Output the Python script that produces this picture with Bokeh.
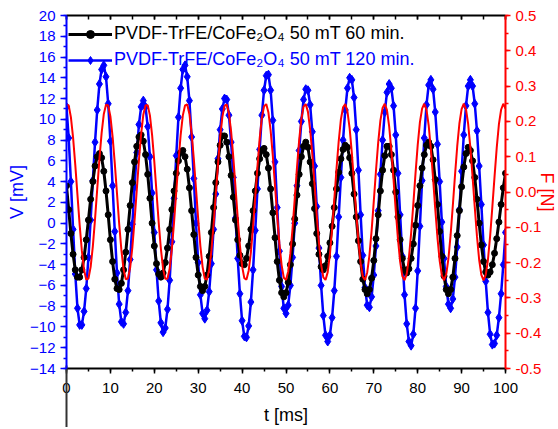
from bokeh.plotting import figure
from bokeh.models import (Range1d, LinearAxis, SingleIntervalTicker, FixedTicker, Legend, LegendItem,
                          PrintfTickFormatter, ColumnDataSource, CustomJSTickFormatter)
from bokeh.embed import file_html
from bokeh.resources import INLINE
import numpy as np

# sampling grid of the recording (ms)
t_ms = np.arange(0, 100.25, 0.5)

# PVDF-TrFE/CoFe2O4 50 mT 60 min. -> V [mV]
v_60min = [
    3.6, 1.3, -1.0, -3.0, -4.5, -5.2, -5.2, -4.5, -3.3, -1.6,
    0.3, 2.3, 4.0, 5.5, 6.4, 6.7, 6.3, 5.0, 3.1, 0.8,
    -1.6, -3.7, -5.4, -6.3, -6.4, -5.8, -4.5, -2.8, -0.6, 1.7,
    3.9, 5.9, 7.4, 8.3, 8.5, 7.9, 6.6, 4.7, 2.4, 0.0,
    -2.2, -3.9, -4.9, -5.2, -4.8, -3.8, -2.4, -0.6, 1.3, 3.1,
    4.8, 6.0, 6.8, 7.0, 6.4, 5.2, 3.4, 1.2, -1.1, -3.3,
    -5.0, -6.1, -6.5, -6.1, -5.0, -3.2, -0.9, 1.5, 3.9, 5.9,
    7.5, 8.4, 8.4, 7.8, 6.4, 4.6, 2.5, 0.3, -1.6, -3.1,
    -3.9, -4.0, -3.4, -2.2, -0.6, 1.2, 3.1, 4.8, 6.2, 7.0,
    7.2, 6.6, 5.3, 3.3, 1.0, -1.4, -3.7, -5.5, -6.7, -7.1,
    -6.7, -5.7, -4.0, -2.0, 0.4, 2.7, 4.7, 6.4, 7.4, 7.8,
    7.3, 5.9, 3.8, 1.4, -1.0, -3.0, -4.2, -4.5, -4.1, -3.2,
    -1.9, -0.3, 1.5, 3.3, 4.9, 6.2, 7.1, 7.5, 7.3, 6.3,
    4.8, 2.8, 0.6, -1.7, -3.7, -5.4, -6.4, -6.8, -6.4, -5.3,
    -3.6, -1.5, 0.8, 3.1, 5.1, 6.5, 7.4, 7.4, 6.6, 5.1,
    3.0, 0.6, -1.6, -3.4, -4.5, -4.8, -4.4, -3.4, -2.0, -0.2,
    1.7, 3.6, 5.3, 6.6, 7.5, 7.8, 7.4, 6.1, 4.2, 1.8,
    -0.8, -3.2, -5.1, -6.4, -6.8, -6.4, -5.2, -3.4, -1.2, 1.2,
    3.5, 5.4, 6.7, 7.3, 7.0, 6.0, 4.4, 2.3, 0.0, -2.1,
    -3.7, -4.7, -5.0, -4.7, -4.0, -2.9, -1.5, 0.1, 1.8, 3.4,
    4.8,
]

# PVDF-TrFE/CoFe2O4 50 mT 120 min. -> V [mV]
v_120min = [
    11.2, 8.2, 4.0, -0.6, -4.9, -8.2, -9.8, -9.8, -8.5, -6.3,
    -3.3, 0.3, 4.1, 7.8, 10.9, 13.4, 14.8, 15.2, 14.1, 11.5,
    7.9, 3.6, -0.8, -4.8, -7.8, -9.5, -9.7, -8.6, -6.5, -3.5,
    -0.1, 3.5, 6.8, 9.5, 11.2, 11.8, 11.2, 9.3, 6.4, 2.9,
    -0.9, -4.5, -7.5, -9.6, -10.5, -10.1, -8.3, -5.5, -1.8, 2.4,
    6.5, 10.2, 13.0, 14.8, 15.2, 14.1, 11.8, 8.3, 4.3, 0.0,
    -3.8, -6.9, -8.7, -9.2, -8.4, -6.6, -3.9, -0.6, 2.8, 6.2,
    9.0, 11.0, 12.0, 11.9, 10.4, 7.8, 4.4, 0.5, -3.4, -6.8,
    -9.4, -10.9, -11.0, -9.9, -7.6, -4.5, -0.7, 3.3, 7.1, 10.4,
    12.8, 14.2, 14.3, 12.8, 9.9, 5.9, 1.5, -2.7, -6.1, -8.2,
    -8.7, -7.9, -6.0, -3.3, 0.0, 3.6, 7.0, 9.8, 11.9, 12.9,
    12.8, 11.4, 8.8, 5.5, 1.6, -2.4, -6.0, -8.9, -10.8, -11.4,
    -10.8, -9.1, -6.5, -3.2, 0.6, 4.4, 8.0, 10.9, 13.0, 14.0,
    13.8, 12.1, 9.0, 5.1, 0.8, -3.1, -6.2, -7.9, -8.1, -7.1,
    -5.0, -2.2, 1.2, 4.7, 8.0, 10.7, 12.6, 13.4, 13.0, 11.3,
    8.5, 4.8, 0.8, -3.2, -6.9, -9.7, -11.4, -11.8, -10.7, -8.2,
    -4.6, -0.3, 4.1, 8.2, 11.4, 13.3, 13.8, 12.9, 10.7, 7.6,
    4.0, 0.1, -3.4, -6.1, -7.8, -8.2, -7.3, -5.2, -2.3, 1.3,
    5.0, 8.5, 11.3, 13.2, 13.8, 13.2, 11.5, 8.9, 5.5, 1.8,
    -2.1, -5.6, -8.6, -10.7, -11.7, -11.6, -10.8, -9.1, -6.8, -4.0,
    -0.9,
]

# applied force F [N]
force_N = [
    .248, .245, .212, .154, .077, -.009, -.094, -.167, -.221, -.248, -.245, -.212, -.154, -.077, .009, .094, .167, .221,
    .247, .245, .214, .157, .081, -.004, -.090, -.164, -.219, -.247, -.245, -.214, -.157, -.081, .004, .090, .164, .219,
    .246, .246, .217, .161, .086, .000, -.086, -.161, -.217, -.246, -.246, -.217, -.161, -.086, .000, .086, .161, .217,
    .245, .248, .221, .167, .094, .009, -.077, -.154, -.212, -.245, -.248, -.221, -.167, -.094, -.009, .077, .154, .212,
    .244, .248, .223, .171, .098, .013, -.073, -.151, -.210, -.244, -.248, -.223, -.171, -.098, -.013, .073, .151, .210,
    .243, .249, .225, .174, .102, .017, -.069, -.147, -.207, -.243, -.249, -.225, -.174, -.102, -.017, .069, .147, .207,
    .242, .249, .227, .177, .106, .022, -.065, -.143, -.205, -.242, -.249, -.227, -.177, -.106, -.022, .065, .143, .205,
    .240, .249, .228, .180, .110, .026, -.061, -.140, -.202, -.240, -.249, -.228, -.180, -.110, -.026, .061, .140, .202,
    .238, .250, .232, .186, .117, .035, -.052, -.133, -.197, -.238, -.250, -.232, -.186, -.117, -.035, .052, .133, .197,
    .236, .250, .233, .189, .121, .039, -.048, -.129, -.194, -.236, -.250, -.233, -.189, -.121, -.039, .048, .129, .194,
    .235, .250, .235, .192, .125, .043, -.043, -.125, -.192, -.235, -.250, -.235, -.192, -.125, -.043, .043, .125, .192,
    .233, .250, .236,
]

label_60 = "PVDF-TrFE/CoFe\u2082O\u2084 50 mT 60 min."
label_120 = "PVDF-TrFE/CoFe\u2082O\u2084 50 mT 120 min."
x_title = "t [ms]"
y_title = "V [mV]"
y2_title = "F [N]"

FONT = "Liberation Sans"
BLUE = "#0000FF"
RED = "#FF0000"

src = ColumnDataSource(dict(t=t_ms, v60=v_60min, v120=v_120min, f=force_N))

p = figure(frame_width=439, frame_height=353, output_backend="svg", toolbar_location=None,
           x_range=Range1d(0, 100), y_range=Range1d(-14, 20),
           min_border_left=66, min_border_right=0, min_border_top=15, min_border_bottom=0)
p.extra_y_ranges = {"F": Range1d(-0.5, 0.5)}
p.outline_line_color = None
p.xgrid.grid_line_color = None
p.ygrid.grid_line_color = None
p.background_fill_color = "white"
p.border_fill_color = "white"

# bottom axis
xa = p.xaxis[0]
xa.ticker = SingleIntervalTicker(interval=10, num_minor_ticks=2)
xa.axis_label = x_title
xa.axis_line_color = "black"
xa.axis_line_width = 2
xa.major_tick_line_color = "black"
xa.minor_tick_line_color = "black"
xa.major_tick_line_width = 1.5
xa.minor_tick_line_width = 1.5
xa.major_tick_out = 5
xa.major_tick_in = 0
xa.minor_tick_out = 3
xa.minor_tick_in = 0
xa.major_label_standoff = 9
xa.axis_label_standoff = 9
xa.major_label_text_font = FONT
xa.major_label_text_font_size = "15px"
xa.major_label_text_color = "black"
xa.axis_label_text_font = FONT
xa.axis_label_text_font_size = "18px"
xa.axis_label_text_font_style = "normal"
xa.axis_label_text_color = "black"

# left axis
ya = p.yaxis[0]
ya.ticker = SingleIntervalTicker(interval=2, num_minor_ticks=2)
ya.axis_label = y_title
for attr in ("axis_line_color", "major_tick_line_color", "minor_tick_line_color",
             "major_label_text_color", "axis_label_text_color"):
    setattr(ya, attr, BLUE)
ya.axis_line_width = 2
ya.major_tick_line_width = 1.5
ya.minor_tick_line_width = 1.5
ya.major_tick_out = 6
ya.major_tick_in = 0
ya.minor_tick_out = 3
ya.minor_tick_in = 0
ya.major_label_standoff = 5
ya.axis_label_standoff = 0
ya.major_label_text_font = FONT
ya.major_label_text_font_size = "15px"
ya.axis_label_text_font = FONT
ya.axis_label_text_font_size = "18px"
ya.axis_label_text_font_style = "normal"

# right axis (force)
ra = LinearAxis(y_range_name="F", axis_label=y2_title,
                ticker=SingleIntervalTicker(interval=0.1, num_minor_ticks=2),
                formatter=PrintfTickFormatter(format="%.1f"))
for attr in ("axis_line_color", "major_tick_line_color", "minor_tick_line_color",
             "major_label_text_color", "axis_label_text_color"):
    setattr(ra, attr, RED)
ra.axis_line_width = 2
ra.major_tick_line_width = 1.5
ra.minor_tick_line_width = 1.5
ra.major_tick_out = 5
ra.major_tick_in = 0
ra.minor_tick_out = 3
ra.minor_tick_in = 0
ra.major_label_standoff = 5
ra.axis_label_standoff = -7
ra.major_label_text_font = FONT
ra.major_label_text_font_size = "15px"
ra.axis_label_text_font = FONT
ra.axis_label_text_font_size = "18px"
ra.axis_label_text_font_style = "normal"
p.add_layout(ra, "right")

# top frame line with inward ticks
ta = LinearAxis(ticker=SingleIntervalTicker(interval=10, num_minor_ticks=2),
                formatter=CustomJSTickFormatter(code="return ''"))
ta.axis_line_color = "black"
ta.axis_line_width = 2
ta.major_tick_line_color = "black"
ta.minor_tick_line_color = "black"
ta.major_tick_line_width = 1.5
ta.minor_tick_line_width = 1.5
ta.major_tick_in = 4
ta.major_tick_out = 0
ta.minor_tick_in = 4
ta.minor_tick_out = 0
ta.major_label_standoff = 0
ta.major_label_text_font_size = "1px"
p.add_layout(ta, "above")

# outer "below" guide: a single long inward tick at t = 0 that reproduces the
# dark line running from the frame's lower-left corner down to the page edge
za = LinearAxis(ticker=FixedTicker(ticks=[0], minor_ticks=[]),
                formatter=CustomJSTickFormatter(code="return ''"))
za.axis_line_color = None
za.major_tick_line_color = "#333333"
za.major_tick_line_width = 2
za.major_tick_in = 62
za.major_tick_out = 0
za.minor_tick_line_color = None
za.major_label_standoff = 0
za.major_label_text_font_size = "1px"
p.add_layout(za, "below")

# data
l120 = p.line("t", "v120", source=src, line_color=BLUE, line_width=2.5)
s120 = p.scatter("t", "v120", source=src, marker="diamond", size=9,
                 fill_color=BLUE, line_color=BLUE)
l60 = p.line("t", "v60", source=src, line_color="black", line_width=3)
s60 = p.scatter("t", "v60", source=src, marker="circle", size=6,
                fill_color="black", line_color="black")
lf = p.line("t", "f", source=src, y_range_name="F", line_color=RED, line_width=2)

# legends (two, so that each label keeps its own colour)
def make_legend(label, renderers, color, loc):
    return Legend(items=[LegendItem(label=label, renderers=renderers)],
                  location=loc, padding=0, margin=0, spacing=0,
                  border_line_color=None, background_fill_alpha=0,
                  glyph_width=44, glyph_height=20, label_standoff=2,
                  label_height=20,
                  label_text_font=FONT, label_text_font_size="18px",
                  label_text_color=color)

p.add_layout(make_legend(label_60, [l60, s60], "black", (2, 324)))
p.add_layout(make_legend(label_120, [l120, s120], BLUE, (2, 298)))

open("out.html", "w").write(file_html(p, INLINE))
